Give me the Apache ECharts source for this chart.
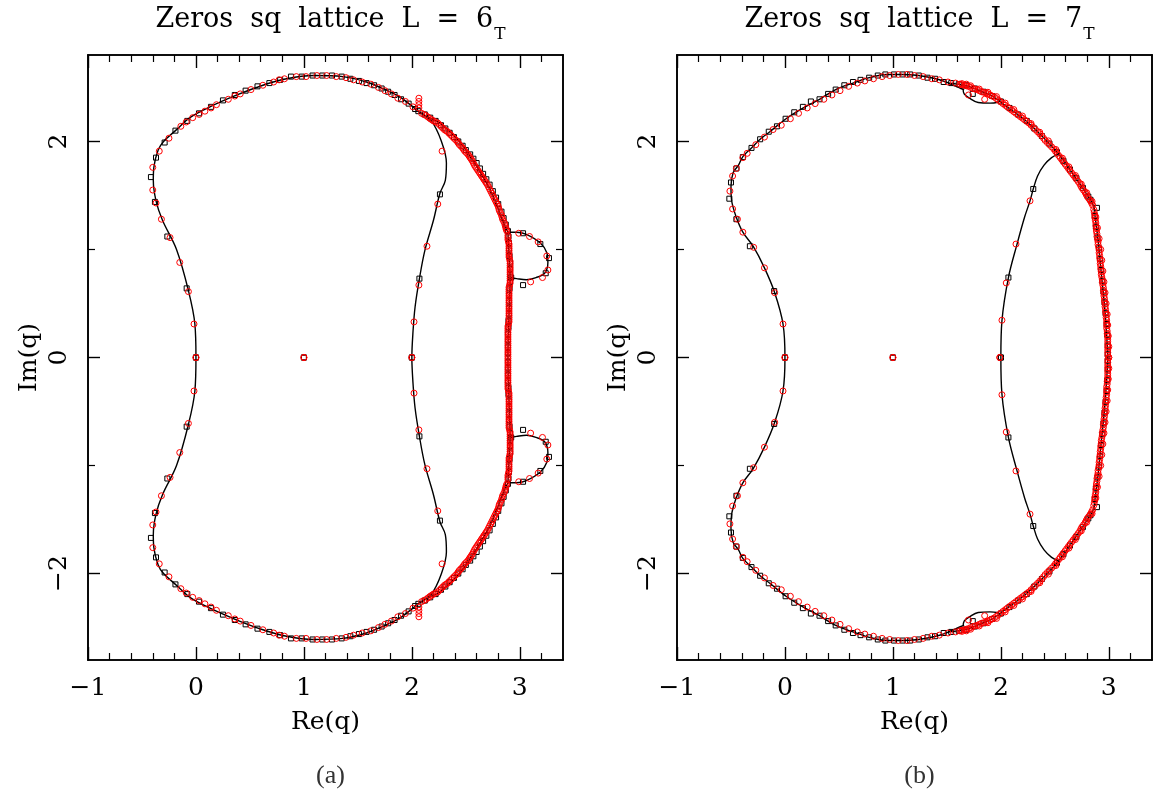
<!DOCTYPE html>
<html>
<head>
<meta charset="utf-8">
<script src="https://cdn.jsdelivr.net/npm/echarts@6/dist/echarts.min.js"></script>
<style>
  html, body { margin: 0; padding: 0; background: #fff; }
  #chart { width: 1153px; height: 799px; }
</style>
</head>
<body>
<div id="chart"></div>
<script>
// Zeros of the Potts partition function in the complex q plane, square lattice
// strips with torus boundary conditions. Only the upper half plane is listed:
// zeros come in complex-conjugate pairs, so each list is reflected in Im(q) = 0.

// ---- tick values ----
const xMajorTicks = [-1, 0, 1, 2, 3];
const xMinorTicks = [-0.8, -0.6, -0.4, -0.2, 0.2, 0.4, 0.6, 0.8, 1.2, 1.4, 1.6, 1.8, 2.2, 2.4, 2.6, 2.8, 3.2];
const yMajorTicks = [-2, 0, 2];
const yMinorTicks = [-1, 1];

const panelTitles = ['Zeros sq lattice L = 6', 'Zeros sq lattice L = 7'];
const panelSubscripts = ['T', 'T'];
const panelCaptions = ['(a)', '(b)'];

// ---- panel (a): L = 6, limiting curve B (upper half) ----
const a_curveLeft = [[0,0],[-0.01,0.31],[-0.07,0.62],[-0.18,1.0],[-0.31,1.27],[-0.37,1.45],[-0.395,1.64],[-0.39,1.76],[-0.35,1.92],[-0.3,2.0],[-0.19,2.10],[-0.056,2.22],[0.13,2.32],[0.38,2.43],[0.62,2.52],[0.84,2.58],[1.09,2.61],[1.36,2.60],[1.58,2.55],[1.73,2.49],[1.89,2.41],[2.01,2.32],[2.07,2.27]];
const a_curveInner = [[2.07,2.27],[2.18,2.19],[2.27,2.01],[2.32,1.80],[2.31,1.64],[2.26,1.52],[2.20,1.27],[2.12,0.99],[2.07,0.73],[2.03,0.47],[2.01,0.23],[2.0,0]];
const a_curveOuter = [[2.07,2.27],[2.16,2.22],[2.26,2.17],[2.43,2.01],[2.57,1.82],[2.68,1.64],[2.77,1.45],[2.84,1.27],[2.89,1.16]];
const a_curveRight = [[2.89,1.16],[2.90,0.95],[2.91,0.74],[2.90,0.40],[2.89,0]];
const a_curveLoop = [[2.89,1.16],[2.97,1.16],[3.06,1.14],[3.19,1.06],[3.25,0.97],[3.26,0.88],[3.23,0.78],[3.15,0.74],[3.06,0.72],[2.97,0.73],[2.91,0.74]];

// zeros of the L = 6 x N = 10 torus (squares)
const a_zerosN10 = [[1,0],[0,0],[2,0],[-0.417,1.67],[-0.38,1.44],[-0.37,1.85],[-0.29,1.99],[-0.265,1.12],[-0.19,2.10],[-0.086,0.64],[-0.08,2.19],[0.028,2.26],[0.139,2.32],[0.25,2.38],[0.36,2.43],[0.46,2.47],[0.57,2.51],[0.68,2.54],[0.78,2.57],[0.88,2.60],[0.98,2.60],[1.08,2.61],[1.17,2.61],[1.26,2.61],[1.35,2.60],[1.43,2.58],[1.51,2.56],[1.58,2.54],[1.65,2.52],[1.72,2.49],[1.78,2.46],[1.84,2.43],[1.90,2.39],[1.97,2.35],[2.03,2.30],[2.06,2.28],
  [2.26,1.51],[2.07,0.73],
  [3.03,1.15],[3.19,1.05],[3.27,0.92],[3.24,0.78],[3.03,0.67],[2.92,0.74],
  [2.12,2.25],[2.17,2.22],[2.22,2.19],[2.27,2.15],[2.31,2.12],[2.35,2.08],[2.39,2.04],[2.43,2.00],[2.47,1.96],[2.50,1.92],[2.54,1.88],[2.57,1.84],[2.60,1.80],[2.63,1.75],[2.66,1.70],[2.69,1.65],[2.72,1.60],[2.75,1.54],[2.78,1.48],[2.80,1.42],[2.83,1.35],[2.85,1.29],[2.87,1.23],[2.89,1.17],
  [2.895,1.12],[2.90,1.06],[2.90,1.00],[2.905,0.94],[2.91,0.88],[2.91,0.82],[2.91,0.76],[2.91,0.70],[2.905,0.64],[2.90,0.58],[2.90,0.52],[2.90,0.46],[2.90,0.40],[2.895,0.34],[2.895,0.28],[2.89,0.22],[2.89,0.16],[2.89,0.10],[2.89,0.04]];

// zeros of the L = 6 x N = 20 torus (circles)
const a_zerosN20 = [[1,0],[0,0],[2,0],[-0.018,0.31],[-0.07,0.61],[-0.15,0.88],[-0.24,1.11],[-0.32,1.28],[-0.37,1.43],[-0.40,1.55],[-0.40,1.76],[-0.34,1.91],[-0.25,2.03],[-0.14,2.14],[-0.09,2.18],[-0.03,2.22],[0.03,2.25],[0.083,2.28],[0.14,2.31],[0.19,2.34],[0.30,2.39],[0.36,2.42],[0.41,2.44],[0.51,2.48],[0.62,2.52],[0.72,2.55],[0.77,2.57],[0.82,2.58],[0.93,2.60],[1.02,2.60],[1.12,2.61],[1.21,2.61],[1.30,2.60],[1.39,2.59],[1.46,2.57],[1.54,2.55],[1.62,2.53],[1.69,2.50],[1.75,2.47],[1.81,2.44],[1.87,2.40],[1.94,2.37],[2.01,2.32],
  [2.065,2.31],[2.065,2.34],[2.065,2.37],[2.065,2.40],
  [2.28,1.91],[2.24,1.42],[2.14,1.03],[2.065,0.67],[2.02,0.33],
  [2.99,1.15],[3.09,1.12],[3.17,1.07],[3.25,0.94],[3.26,0.81],[3.21,0.74],[3.10,0.70],
  [2.09,2.26],[2.13,2.24],[2.17,2.21],[2.20,2.19],[2.24,2.17],[2.27,2.14],[2.30,2.11],[2.33,2.09],[2.36,2.06],[2.39,2.03],[2.42,2.00],[2.44,1.97],[2.47,1.94],[2.49,1.91],[2.52,1.88],[2.54,1.85],[2.56,1.82],[2.58,1.78],[2.60,1.75],[2.62,1.72],[2.64,1.69],[2.66,1.66],[2.68,1.63],[2.70,1.60],[2.72,1.56],[2.74,1.52],[2.76,1.48],[2.78,1.44],[2.80,1.40],[2.81,1.36],[2.83,1.32],[2.84,1.28],[2.86,1.24],[2.87,1.20],[2.88,1.17],
  [2.11,2.25],[2.15,2.225],[2.185,2.20],[2.22,2.18],[2.255,2.155],[2.285,2.125],[2.315,2.10],[2.345,2.075],[2.375,2.045],[2.405,2.015],[2.43,1.985],[2.455,1.955],[2.48,1.925],[2.505,1.895],[2.53,1.865],[2.55,1.835],[2.57,1.80],[2.59,1.765],[2.61,1.735],[2.63,1.705],[2.65,1.675],[2.67,1.645],[2.69,1.615],[2.71,1.58],[2.73,1.54],[2.75,1.50],[2.77,1.46],[2.79,1.42],[2.805,1.38],[2.82,1.34],[2.835,1.30],[2.85,1.26],[2.865,1.22],[2.875,1.185],
  [2.89,1.13],[2.89,1.09],[2.90,1.05],[2.90,1.01],[2.90,0.97],[2.90,0.93],[2.91,0.89],[2.91,0.85],[2.91,0.81],[2.91,0.77],[2.91,0.73],[2.91,0.69],[2.90,0.65],[2.90,0.61],[2.90,0.57],[2.90,0.53],[2.90,0.49],[2.90,0.45],[2.90,0.41],[2.90,0.37],[2.90,0.33],[2.89,0.29],[2.89,0.25],[2.89,0.21],[2.89,0.17],[2.89,0.13],[2.89,0.09],[2.89,0.05],[2.89,0.01],
  [2.89,1.11],[2.895,1.07],[2.90,1.03],[2.90,0.99],[2.90,0.95],[2.905,0.91],[2.91,0.87],[2.91,0.83],[2.91,0.79],[2.91,0.75],[2.91,0.71],[2.905,0.67],[2.90,0.63],[2.90,0.59],[2.90,0.55],[2.90,0.51],[2.90,0.47],[2.90,0.43],[2.90,0.39],[2.90,0.35],[2.895,0.31],[2.89,0.27],[2.89,0.23],[2.89,0.19],[2.89,0.15],[2.89,0.11],[2.89,0.07],[2.89,0.03]];

// ---- panel (b): L = 7, limiting curve B (upper half) ----
const b_curveLeft = [[0,0],[-0.018,0.31],[-0.095,0.60],[-0.19,0.83],[-0.295,1.03],[-0.39,1.16],[-0.455,1.31],[-0.495,1.46],[-0.50,1.58],[-0.48,1.71],[-0.43,1.78],[-0.39,1.86],[-0.31,1.94],[-0.23,2.02],[-0.14,2.09],[0.01,2.21],[0.17,2.31],[0.32,2.39],[0.47,2.48],[0.63,2.54],[0.78,2.59],[0.94,2.62],[1.09,2.62],[1.24,2.61],[1.40,2.58],[1.52,2.54]];
const b_curveOuter = [[1.52,2.54],[1.60,2.53],[1.70,2.51],[1.80,2.47],[1.92,2.42],[2.07,2.31],[2.22,2.20],[2.37,2.06],[2.53,1.89],[2.68,1.68],[2.83,1.46],[2.86,1.40]];
const b_curveRight = [[2.86,1.40],[2.88,1.25],[2.90,1.09],[2.93,0.78],[2.96,0.48],[2.98,0.2],[2.99,0]];
const b_curveLobe1 = [[1.51,2.54],[1.56,2.52],[1.63,2.49],[1.66,2.48]];
const b_curveLobe2 = [[1.65,2.49],[1.66,2.44],[1.71,2.40],[1.79,2.36],[1.90,2.355],[1.96,2.36],[2.0,2.39]];
const b_curveInner = [[2.53,1.88],[2.47,1.85],[2.40,1.78],[2.34,1.68],[2.30,1.56],[2.27,1.45],[2.22,1.30],[2.15,1.05],[2.07,0.74],[2.01,0.34],[2.0,0]];

// zeros of the L = 7 x N = 10 torus (squares)
const b_zerosN10 = [[1,0],[0,0],[2,0],[-0.50,1.62],[-0.515,1.47],[-0.45,1.28],[-0.325,1.03],[-0.10,0.615],[-0.45,1.75],[-0.39,1.855],[-0.31,1.94],[-0.23,2.02],[-0.15,2.09],[-0.074,2.14],[0.006,2.21],[0.086,2.27],[0.166,2.32],[0.24,2.37],[0.32,2.39],[0.40,2.44],[0.47,2.48],[0.55,2.52],[0.63,2.55],[0.70,2.57],[0.78,2.59],[0.86,2.61],[0.93,2.62],[1.01,2.62],[1.09,2.62],[1.16,2.62],[1.24,2.61],[1.32,2.59],[1.39,2.58],[1.47,2.55],[1.54,2.54],[1.61,2.53],[1.74,2.44],
  [2.30,1.56],[2.07,0.74],[2.83,1.46],[2.89,1.385],
  [1.68,2.52],[1.76,2.49],[1.84,2.46],[1.92,2.42],[2.00,2.37],[2.08,2.31],[2.16,2.25],[2.24,2.19],[2.31,2.12],[2.38,2.05],[2.45,1.98],[2.52,1.90],[2.58,1.82],[2.64,1.74],[2.70,1.66],[2.76,1.57],[2.81,1.49],
  [2.87,1.31],[2.88,1.21],[2.895,1.11],[2.91,1.01],[2.92,0.91],[2.93,0.81],[2.94,0.71],[2.95,0.61],[2.96,0.51],[2.97,0.41],[2.98,0.31],[2.985,0.21],[2.99,0.11],[2.99,0.03]];

// zeros of the L = 7 x N = 20 torus (circles)
const b_zerosN20 = [[1,0],[0,0],[1.99,0],[-0.018,0.31],[-0.095,0.60],[-0.19,0.83],[-0.29,1.02],[-0.39,1.16],[-0.44,1.28],[-0.485,1.375],[-0.51,1.54],[-0.485,1.68],[-0.45,1.75],[-0.39,1.85],[-0.35,1.89],[-0.27,1.97],[-0.19,2.04],[-0.11,2.11],[-0.034,2.15],[0.05,2.21],[0.126,2.26],[0.206,2.31],[0.28,2.35],[0.36,2.39],[0.435,2.43],[0.51,2.47],[0.59,2.51],[0.67,2.54],[0.74,2.56],[0.82,2.58],[0.90,2.60],[0.97,2.61],[1.05,2.62],[1.13,2.62],[1.20,2.61],[1.28,2.60],[1.36,2.58],[1.43,2.57],[1.51,2.55],[1.58,2.54],
  [1.70,2.43],[1.85,2.39],[1.68,2.53],
  [2.27,1.45],[2.14,1.05],[2.05,0.69],[2.01,0.345],
  [1.62,2.53],[1.66,2.52],[1.70,2.51],[1.74,2.49],[1.78,2.48],[1.82,2.46],[1.86,2.45],[1.90,2.43],[1.94,2.41],[1.98,2.38],[2.02,2.35],[2.06,2.32],[2.10,2.29],[2.14,2.26],[2.18,2.23],[2.22,2.20],[2.26,2.17],[2.30,2.13],[2.34,2.09],[2.38,2.05],[2.41,2.01],[2.45,1.97],[2.49,1.93],[2.52,1.89],[2.55,1.85],[2.58,1.81],[2.61,1.77],[2.64,1.73],[2.67,1.69],[2.70,1.65],[2.73,1.61],[2.75,1.57],[2.78,1.53],[2.80,1.49],[2.83,1.45],[2.85,1.41],
  [1.64,2.525],[1.68,2.515],[1.72,2.50],[1.76,2.485],[1.80,2.47],[1.84,2.455],[1.88,2.44],[1.92,2.42],[1.96,2.395],[2.00,2.365],[2.04,2.335],[2.08,2.305],[2.12,2.275],[2.16,2.245],[2.20,2.215],[2.24,2.185],[2.28,2.15],[2.32,2.11],[2.36,2.07],[2.395,2.03],[2.43,1.99],[2.47,1.95],[2.505,1.91],[2.535,1.87],[2.565,1.83],[2.595,1.79],[2.625,1.75],[2.655,1.71],[2.685,1.67],[2.715,1.63],[2.74,1.59],[2.765,1.55],[2.79,1.51],[2.815,1.47],[2.84,1.43],
  [1.64,2.535],[1.72,2.515],[1.80,2.485],[1.88,2.455],[1.96,2.415],[2.04,2.355],[2.12,2.295],[2.20,2.235],[2.28,2.165],[2.36,2.085],[2.44,2.005],[2.51,1.925],[2.57,1.845],[2.63,1.765],[2.69,1.685],[2.745,1.605],[2.795,1.525],[2.845,1.445],
  [2.86,1.37],[2.87,1.32],[2.875,1.27],[2.88,1.22],[2.885,1.17],[2.89,1.12],[2.90,1.07],[2.905,1.02],[2.91,0.97],[2.915,0.92],[2.92,0.87],[2.925,0.82],[2.93,0.77],[2.94,0.72],[2.945,0.67],[2.95,0.62],[2.955,0.57],[2.96,0.52],[2.965,0.47],[2.97,0.42],[2.975,0.37],[2.98,0.32],[2.98,0.27],[2.985,0.22],[2.99,0.17],[2.99,0.12],[2.99,0.07],[2.99,0.02],
  [2.865,1.345],[2.87,1.295],[2.88,1.245],[2.885,1.195],[2.89,1.145],[2.895,1.095],[2.90,1.045],[2.91,0.995],[2.915,0.945],[2.92,0.895],[2.925,0.845],[2.93,0.795],[2.935,0.745],[2.94,0.695],[2.95,0.645],[2.955,0.595],[2.96,0.545],[2.965,0.495],[2.97,0.445],[2.975,0.395],[2.98,0.345],[2.98,0.295],[2.985,0.245],[2.99,0.195],[2.99,0.145],[2.99,0.095],[2.99,0.045],[3.0,0.0],
  [2.88,1.30],[2.895,1.20],[2.91,1.10],[2.925,1.00],[2.935,0.90],[2.945,0.80],[2.955,0.70],[2.965,0.60],[2.975,0.50],[2.985,0.40],[2.99,0.30],[2.995,0.20],[3.0,0.10]];

// ---- helpers ----
const FONT = 'DejaVu Serif';
const conj = pts => pts.map(p => [p[0], -p[1]]);
// a branch that meets the real axis is joined to its conjugate there
function closeOnAxis(upper) {
  const first = upper[0], last = upper[upper.length - 1];
  if (first[1] === 0) return conj(upper).reverse().concat(upper.slice(1));
  if (last[1] === 0) return upper.concat(conj(upper).reverse().slice(1));
  return null;
}
function curveSeries(upper, g) {
  const base = {
    type: 'line', xAxisIndex: g * 4, yAxisIndex: g * 4, showSymbol: false, symbol: 'none',
    smooth: 0.35, lineStyle: { color: '#000', width: 1.4 }, z: 2, silent: true, animation: false
  };
  const joined = closeOnAxis(upper);
  if (joined) return [Object.assign({}, base, { data: joined })];
  return [Object.assign({}, base, { data: upper }), Object.assign({}, base, { data: conj(upper) })];
}
function zeroSeries(upper, g, kind) {
  const isSq = kind === 'square';
  return {
    type: 'scatter', xAxisIndex: g * 4, yAxisIndex: g * 4,
    data: upper.concat(conj(upper)),
    symbol: isSq ? 'rect' : 'circle', symbolSize: isSq ? 5 : 6,
    itemStyle: { color: 'rgba(0,0,0,0)', borderColor: isSq ? '#000' : '#ff0000', borderWidth: 1, opacity: 1 },
    z: isSq ? 3 : 4, silent: true, animation: false
  };
}
const fmt = v => (v < 0 ? '\u2212' + (-v) : String(v));

const grids = [
  { left: 88, top: 55, width: 475, height: 605 },
  { left: 677, top: 55, width: 475, height: 605 }
];

const xAxes = [], yAxes = [];
grids.forEach((gr, g) => {
  const common = { type: 'value', gridIndex: g, min: -1, max: 3.4, splitLine: { show: false },
    axisLine: { show: true, onZero: false, lineStyle: { color: '#000', width: 1.6 } } };
  xAxes.push(Object.assign({}, common, {
    position: 'bottom', name: 'Re(q)', nameLocation: 'middle', nameGap: 50,
    nameTextStyle: { fontFamily: FONT, fontSize: 25, color: '#000' },
    axisTick: { inside: true, length: 13, customValues: xMajorTicks, lineStyle: { color: '#000', width: 1.4 } },
    axisLabel: { customValues: xMajorTicks, formatter: fmt, margin: 16, fontFamily: FONT, fontSize: 25, color: '#000' }
  }));
  xAxes.push(Object.assign({}, common, {
    position: 'bottom', axisTick: { inside: true, length: 7, customValues: xMinorTicks, lineStyle: { color: '#000', width: 1.2 } },
    axisLabel: { show: false }
  }));
  xAxes.push(Object.assign({}, common, {
    position: 'top', axisTick: { inside: true, length: 13, customValues: xMajorTicks, lineStyle: { color: '#000', width: 1.4 } },
    axisLabel: { show: false }
  }));
  xAxes.push(Object.assign({}, common, {
    position: 'top', axisTick: { inside: true, length: 7, customValues: xMinorTicks, lineStyle: { color: '#000', width: 1.2 } },
    axisLabel: { show: false }
  }));

  const ycommon = { type: 'value', gridIndex: g, min: -2.8, max: 2.8, splitLine: { show: false },
    axisLine: { show: true, onZero: false, lineStyle: { color: '#000', width: 1.6 } } };
  yAxes.push(Object.assign({}, ycommon, {
    position: 'left', name: 'Im(q)', nameLocation: 'middle', nameGap: 46, nameRotate: 90,
    nameTextStyle: { fontFamily: FONT, fontSize: 25, color: '#000' },
    axisTick: { inside: true, length: 12, customValues: yMajorTicks, lineStyle: { color: '#000', width: 1.4 } },
    axisLabel: { customValues: yMajorTicks, formatter: fmt, rotate: 90, margin: 16, fontFamily: FONT, fontSize: 25, color: '#000' }
  }));
  yAxes.push(Object.assign({}, ycommon, {
    position: 'left', axisTick: { inside: true, length: 7, customValues: yMinorTicks, lineStyle: { color: '#000', width: 1.2 } },
    axisLabel: { show: false }
  }));
  yAxes.push(Object.assign({}, ycommon, {
    position: 'right', axisTick: { inside: true, length: 12, customValues: yMajorTicks, lineStyle: { color: '#000', width: 1.4 } },
    axisLabel: { show: false }
  }));
  yAxes.push(Object.assign({}, ycommon, {
    position: 'right', axisTick: { inside: true, length: 7, customValues: yMinorTicks, lineStyle: { color: '#000', width: 1.2 } },
    axisLabel: { show: false }
  }));
});

const series = [].concat(
  curveSeries(a_curveLeft, 0), curveSeries(a_curveInner, 0), curveSeries(a_curveOuter, 0),
  curveSeries(a_curveRight, 0), curveSeries(a_curveLoop, 0),
  curveSeries(b_curveLeft, 1), curveSeries(b_curveOuter, 1), curveSeries(b_curveRight, 1),
  curveSeries(b_curveLobe1, 1), curveSeries(b_curveLobe2, 1), curveSeries(b_curveInner, 1),
  [zeroSeries(a_zerosN10, 0, 'square'), zeroSeries(a_zerosN20, 0, 'circle'),
   zeroSeries(b_zerosN10, 1, 'square'), zeroSeries(b_zerosN20, 1, 'circle')]
);

// panel headings: words set with wide spacing, subscript lowered
function headingText(title, sub) {
  return title.split(' ').map(w => '{m|' + w + '}').join('{g| }') + '{s|' + sub + '}';
}
const titles = [];
grids.forEach((gr, g) => {
  const cx = gr.left + gr.width / 2;
  titles.push({
    text: headingText(panelTitles[g], panelSubscripts[g]),
    left: cx, top: 1, textAlign: 'center',
    textStyle: {
      fontWeight: 'normal',
      rich: {
        m: { fontFamily: FONT, fontSize: 27, fontWeight: 'normal', color: '#000', lineHeight: 32, verticalAlign: 'top' },
        g: { fontFamily: FONT, fontSize: 27, width: 17, lineHeight: 32, verticalAlign: 'top' },
        s: { fontFamily: FONT, fontSize: 17, fontWeight: 'normal', color: '#000', lineHeight: 18, verticalAlign: 'top', padding: [20, 0, 0, 1] }
      }
    }
  });
  titles.push({
    text: panelCaptions[g], left: cx, top: 758, textAlign: 'center',
    textStyle: { fontFamily: 'Liberation Serif', fontSize: 26, fontWeight: 'normal', color: '#333' }
  });
});

const chart = echarts.init(document.getElementById('chart'), null, { renderer: 'canvas' });
chart.setOption({
  backgroundColor: '#fff',
  animation: false,
  title: titles,
  grid: grids,
  xAxis: xAxes,
  yAxis: yAxes,
  series: series
});
</script>
</body>
</html>
